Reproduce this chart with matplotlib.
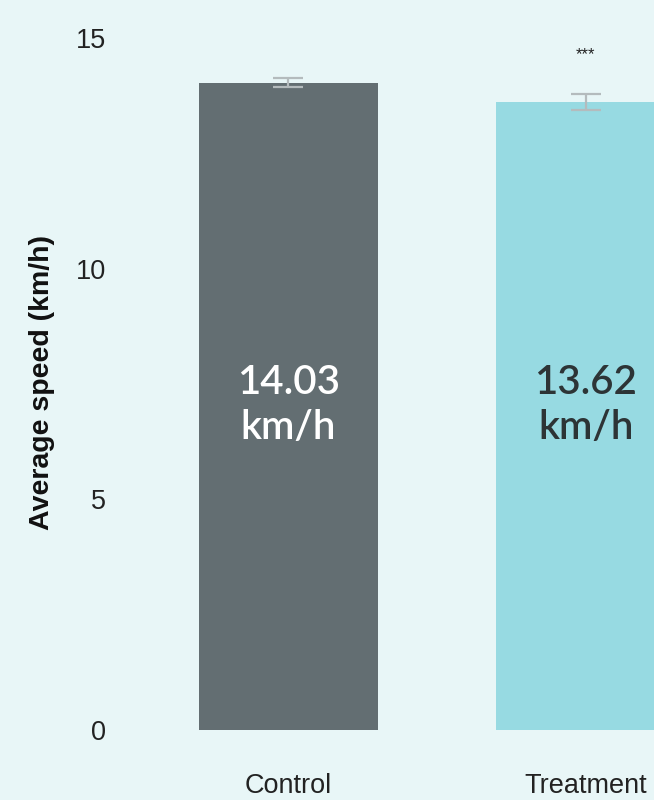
import matplotlib
matplotlib.use("Agg")
import matplotlib.pyplot as plt

# data
groups = ["Control", "Treatment"]
speed = [14.03, 13.62]
speed_err = [0.10, 0.17]
bar_labels = ["14.03\nkm/h", "13.62\nkm/h"]
label_y = 7.05
sig_mark = "***"
sig_y = 14.65

bg = "#e8f6f7"
bar_colors = ["#636e72", "#97dae2"]
label_colors = ["#ffffff", "#2d3436"]

plt.rcParams["font.family"] = ["Liberation Sans", "DejaVu Sans"]

fig = plt.figure(figsize=(6.54, 8), dpi=100, facecolor=bg)
# panel runs past the right edge, like the cropped original
ax = fig.add_axes([110 / 654, 70 / 800, 654 / 654, 730 / 800])
ax.set_facecolor(bg)

x = list(range(len(groups)))
ax.bar(x, speed, width=0.6, color=bar_colors, zorder=2)
ax.errorbar(x, speed, yerr=speed_err, fmt="none", ecolor="#b4bbbd",
            elinewidth=1.6, capsize=10.5, capthick=1.6, zorder=3)

for xi, lab, c in zip(x, bar_labels, label_colors):
    ax.text(xi, label_y, lab, ha="center", va="center", color=c,
            fontsize=29, fontweight="semibold", family=["Lato", "DejaVu Sans"],
            linespacing=1.25, zorder=4)

ax.text(1, sig_y, sig_mark, ha="center", va="center", fontsize=12,
        color="#222222", zorder=4)

ax.set_xlim(-0.6, 1.6)
ax.set_ylim(0, 15.825)
ax.set_xticks(x)
ax.set_xticklabels(groups)
ax.set_yticks([0, 5, 10, 15])
ax.tick_params(axis="both", length=0, labelsize=19.5, colors="#222222")
ax.tick_params(axis="y", pad=3)
ax.tick_params(axis="x", pad=31)
for s in ax.spines.values():
    s.set_visible(False)

fig.text(42 / 654, 1 - 383 / 800, "Average speed (km/h)", rotation=90,
         ha="center", va="center", fontsize=20.5, fontweight="bold",
         color="#111111")

fig.savefig("out.png", dpi=100, facecolor=bg)
